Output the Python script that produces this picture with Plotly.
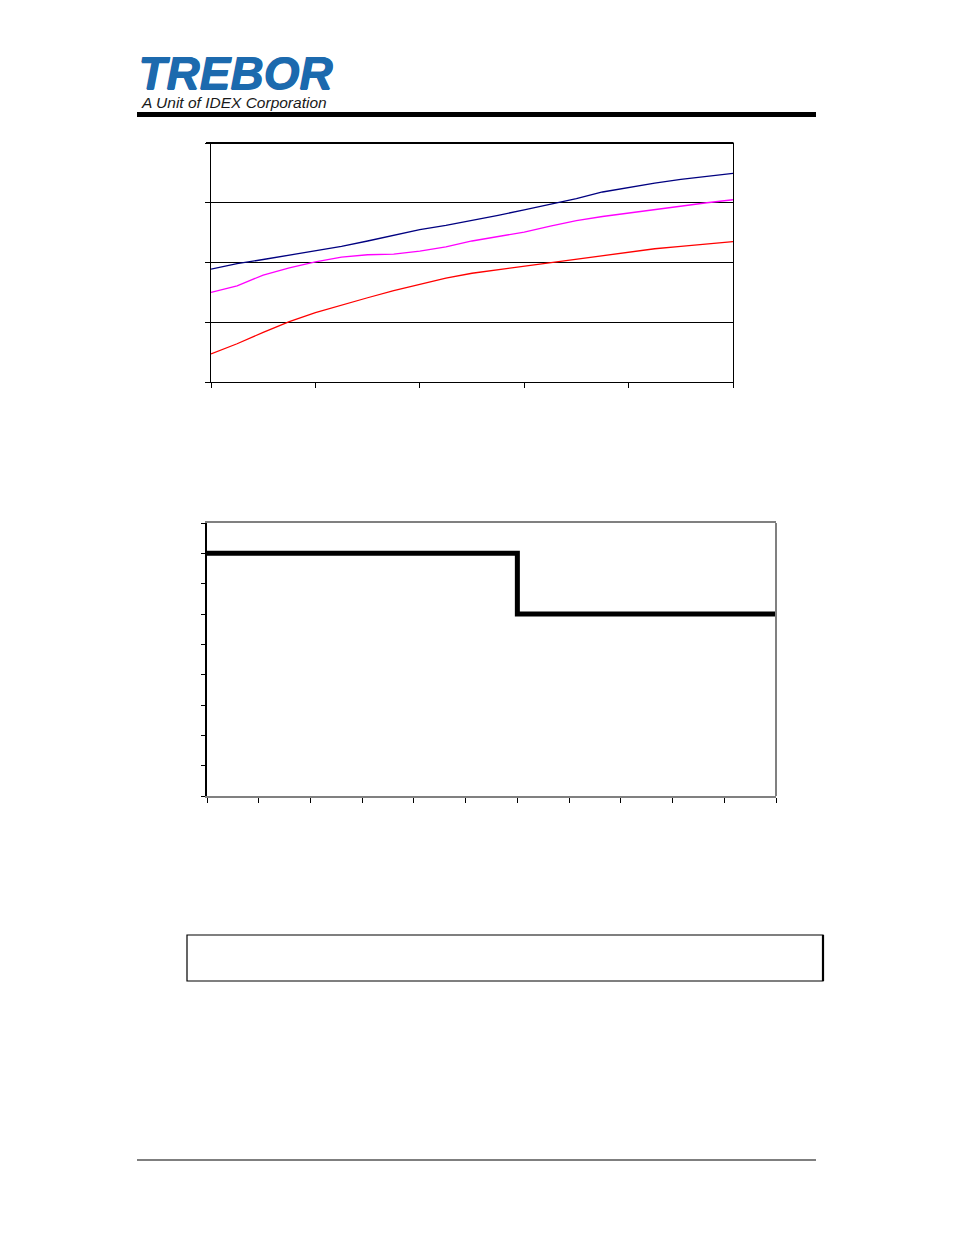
import plotly.graph_objects as go

W, H = 954, 1235
OFF = 8  # page body margin the figure sits inside

# upper chart: three curves sampled every 0.25 along x (0..5)
x_top = [0, 0.25, 0.5, 0.75, 1.0, 1.25, 1.5, 1.75, 2.0, 2.25, 2.5,
         2.75, 3.0, 3.25, 3.5, 3.75, 4.0, 4.25, 4.5, 4.75, 5.0]
navy_vals = [1.89, 1.98, 2.05, 2.12, 2.19, 2.27, 2.36, 2.45, 2.55, 2.62, 2.70,
             2.79, 2.88, 2.97, 3.07, 3.18, 3.26, 3.33, 3.39, 3.44, 3.49]
magenta_vals = [1.50, 1.61, 1.79, 1.91, 2.01, 2.09, 2.13, 2.14, 2.19, 2.26, 2.36,
                2.44, 2.51, 2.61, 2.70, 2.77, 2.83, 2.89, 2.95, 3.00, 3.05]
red_vals = [0.47, 0.64, 0.83, 1.01, 1.16, 1.29, 1.41, 1.53, 1.64, 1.74, 1.82,
            1.88, 1.93, 2.00, 2.06, 2.12, 2.18, 2.23, 2.27, 2.31, 2.35]

# lower chart: step profile
x_step = [0, 6, 11]
y_step = [8, 6, 6]


def px_x(p):
    return (p - OFF) / W


def px_y(p):
    return 1 - (p - OFF) / H


fig = go.Figure()

fig.add_trace(go.Scatter(x=x_top, y=navy_vals, mode='lines',
                         line=dict(color='#000080', width=1.3), xaxis='x', yaxis='y'))
fig.add_trace(go.Scatter(x=x_top, y=magenta_vals, mode='lines',
                         line=dict(color='#FF00FF', width=1.3), xaxis='x', yaxis='y'))
fig.add_trace(go.Scatter(x=x_top, y=red_vals, mode='lines',
                         line=dict(color='#FF0000', width=1.3), xaxis='x', yaxis='y'))

fig.add_trace(go.Scatter(x=x_step, y=y_step, mode='lines', line_shape='hv',
                         line=dict(color='black', width=5), xaxis='x2', yaxis='y2'))

axis_common = dict(showticklabels=False, ticks='outside', tickcolor='black',
                   tickwidth=1, zeroline=False, fixedrange=True)

fig.update_layout(
    width=W, height=H,
    margin=dict(l=0, r=0, t=0, b=0),
    paper_bgcolor='white', plot_bgcolor='white',
    showlegend=False,
    xaxis=dict(domain=[px_x(211), px_x(733)], range=[0, 5], dtick=1,
               showline=True, linecolor='black', linewidth=1, mirror=False,
               ticklen=5, showgrid=False, anchor='y', **axis_common),
    yaxis=dict(domain=[px_y(382), px_y(143)], range=[0, 4], dtick=1,
               showline=True, linecolor='black', linewidth=1, mirror=True,
               ticklen=5, showgrid=True, gridcolor='black', gridwidth=1,
               anchor='x', **axis_common),
    xaxis2=dict(domain=[px_x(207), px_x(776)], range=[0, 11], dtick=1,
                showline=True, linecolor='#808080', linewidth=2, mirror=True,
                ticklen=5, showgrid=False, anchor='y2', **axis_common),
    yaxis2=dict(domain=[px_y(796), px_y(523)], range=[0, 9], dtick=1,
                showline=True, linecolor='black', linewidth=2, mirror=False,
                ticklen=4, showgrid=False, anchor='x2', **axis_common),
)

shapes = []
# thicker top border of the upper chart
shapes.append(dict(type='line', xref='paper', yref='paper',
                   x0=px_x(206), x1=px_x(733.5), y0=px_y(143), y1=px_y(143),
                   line=dict(color='black', width=2)))
# grey right border of the lower chart
shapes.append(dict(type='line', xref='paper', yref='paper',
                   x0=px_x(776), x1=px_x(776), y0=px_y(523), y1=px_y(796),
                   line=dict(color='#808080', width=2)))
# header rule and footer rule
shapes.append(dict(type='line', xref='paper', yref='paper',
                   x0=px_x(137), x1=px_x(816), y0=px_y(114.5), y1=px_y(114.5),
                   line=dict(color='black', width=5)))
shapes.append(dict(type='line', xref='paper', yref='paper',
                   x0=px_x(137), x1=px_x(816), y0=px_y(1160), y1=px_y(1160),
                   line=dict(color='black', width=1.2)))
# empty box
shapes.append(dict(type='rect', xref='paper', yref='paper',
                   x0=px_x(187), x1=px_x(823), y0=px_y(981), y1=px_y(935),
                   line=dict(color='black', width=1.2)))
shapes.append(dict(type='line', xref='paper', yref='paper',
                   x0=px_x(823), x1=px_x(823), y0=px_y(981), y1=px_y(935),
                   line=dict(color='black', width=2.2)))
fig.update_layout(shapes=shapes)

# logo
logo_blue = '#1C6AAE'
fig.add_annotation(x=px_x(136), y=px_y(73), xref='paper', yref='paper',
                   xanchor='left', yanchor='middle', showarrow=False,
                   text='<b><i>TREBOR</i></b>',
                   font=dict(family='Liberation Sans', size=46, color=logo_blue,
                             shadow='1px 0 0 %s, 0.5px 0.5px 0 %s' % (logo_blue, logo_blue)))
fig.add_annotation(x=px_x(139), y=px_y(103), xref='paper', yref='paper',
                   xanchor='left', yanchor='middle', showarrow=False,
                   text='<i>A Unit of IDEX Corporation</i>',
                   font=dict(family='Liberation Sans', size=15.5, color='#1a1a1a'))

# white speed stripes through the logo
stripe_y = [61, 65, 69, 73, 77]
stripe_end = [252, 248, 242, 234, 224]
for sy, se in zip(stripe_y, stripe_end):
    fig.add_shape(type='line', xref='paper', yref='paper',
                  x0=px_x(140), x1=px_x(se), y0=px_y(sy), y1=px_y(sy),
                  line=dict(color='white', width=1.2))

fig.write_html("out.html")
